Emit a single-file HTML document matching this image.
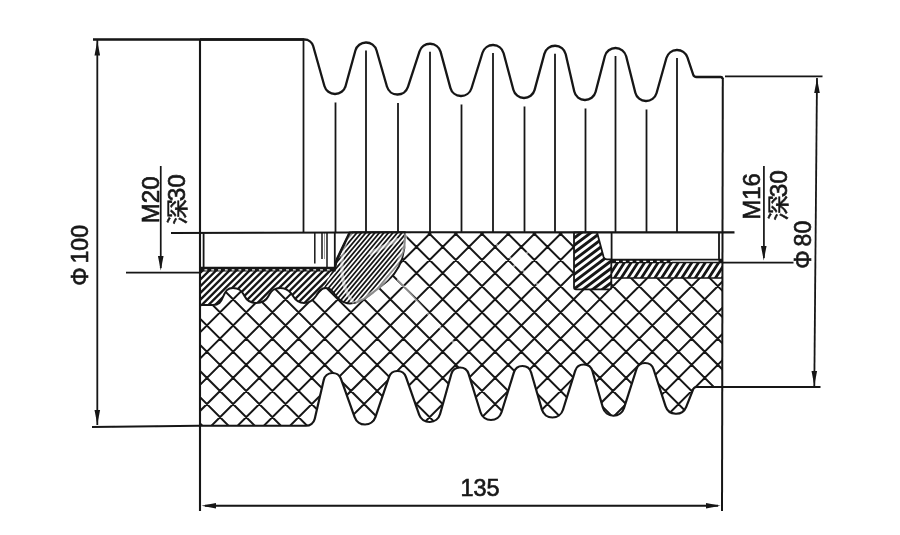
<!DOCTYPE html>
<html lang="zh">
<head>
<meta charset="utf-8">
<title>Insulator drawing</title>
<style>
html,body{margin:0;padding:0;background:#fff;}
body{width:900px;height:535px;overflow:hidden;}
svg{display:block;}
</style>
</head>
<body>
<svg width="900" height="535" viewBox="0 0 900 535">
<defs>
<clipPath id="cb"><path d="M200,425.75 H306 A9,9 0 0 0 314.77,418.78 L323.73,379.97 A9,9 0 0 1 340.97,378.97 L354.64,417.2 A11,11 0 0 0 375.42,417.04 L388.98,377.11 A9,9 0 0 1 406,377.03 L419.11,414.62 A11,11 0 0 0 440.09,413.98 L451.34,374.06 A9,9 0 0 1 468.6,373.84 L480.49,412.25 A11,11 0 0 0 501.51,412.26 L513.9,372.33 A9,9 0 0 1 531.14,372.48 L541.94,409.57 A11,11 0 0 0 563,409.78 L575.16,370.82 A9,9 0 0 1 592.4,371.02 L602.92,407.78 A11,11 0 0 0 623.98,408.11 L636.43,369.25 A9,9 0 0 1 653.56,369.22 L665.54,406.14 A11,11 0 0 0 686.22,406.83 L693.25,389.2 A3.5,3.5 0 0 1 696.5,387 H722.5 V232.3 H200 Z"/></clipPath>
<clipPath id="cl"><path d="M200,270 H334.5 L336,262 L350,232.3 H405 C405.5,244 404,252 402,259 C398,272 390,280 380,287 C370,295 360,303.5 350,303.5 C343,303.5 338,299 334.5,294 C331,289 329,288 326,288 C321,288 319,291 316,296 C312,302 308,303 304,303 C299,303 296,301 293,296 C289.5,290 286,288 280,288 C274.5,288 271.5,290 268.5,296 C266,301 262,303 256,303 C250,303 247,301 244.5,296 C241.5,290 238.5,288 233,288 C227.5,288 225.5,291 223.5,296 C221,302.5 218.5,305 213,305 H200 Z"/></clipPath>
<clipPath id="hl"><path d="M190,225 H353.4 L313.4,310 H190 Z"/></clipPath>
<clipPath id="hr"><path d="M353.4,225 H420 V310 H313.4 Z"/></clipPath>
<clipPath id="cr1"><path d="M574,232.3 H597 L603.6,257 Q604.3,259.3 607,259.3 H611.3 V287.3 Q611.3,289.3 609.3,289.3 H576 Q574,289.3 574,287.3 Z"/></clipPath>
<clipPath id="cr2"><path d="M611.3,262 H722.5 V278 H611.3 Z"/></clipPath>
<filter id="soft" x="0" y="0" width="900" height="535" filterUnits="userSpaceOnUse"><feGaussianBlur stdDeviation="0.45"/></filter>
</defs>
<rect width="900" height="535" fill="#fff"/>
<g filter="url(#soft)">
<g clip-path="url(#cb)"><path d="M30.53,318.47 L450.7,-101.7 M43.63,331.57 L463.8,-88.6 M56.73,344.67 L476.9,-75.5 M69.83,357.77 L490,-62.4 M82.93,370.87 L503.1,-49.3 M96.03,383.97 L516.2,-36.2 M109.13,397.07 L529.3,-23.1 M122.23,410.17 L542.4,-10 M135.33,423.27 L555.5,3.1 M148.43,436.37 L568.6,16.2 M161.53,449.47 L581.7,29.3 M174.63,462.57 L594.8,42.4 M187.73,475.67 L607.9,55.5 M200.83,488.77 L621,68.6 M213.93,501.87 L634.1,81.7 M227.03,514.97 L647.2,94.8 M240.13,528.07 L660.3,107.9 M253.23,541.17 L673.4,121 M266.33,554.27 L686.5,134.1 M279.43,567.37 L699.6,147.2 M292.53,580.47 L712.7,160.3 M305.63,593.57 L725.8,173.4 M318.73,606.67 L738.9,186.5 M331.83,619.77 L752,199.6 M344.93,632.87 L765.1,212.7 M358.03,645.97 L778.2,225.8 M371.13,659.07 L791.3,238.9 M384.23,672.17 L804.4,252 M397.33,685.27 L817.5,265.1 M410.43,698.37 L830.6,278.2 M423.53,711.47 L843.7,291.3 M436.63,724.57 L856.8,304.4 M449.73,737.67 L869.9,317.5 M462.83,750.77 L883,330.6 M466.35,-96.25 L886.52,323.92 M453.25,-83.15 L873.42,337.02 M440.15,-70.05 L860.32,350.12 M427.05,-56.95 L847.22,363.22 M413.95,-43.85 L834.12,376.32 M400.85,-30.75 L821.02,389.42 M387.75,-17.65 L807.92,402.52 M374.65,-4.55 L794.82,415.62 M361.55,8.55 L781.72,428.72 M348.45,21.65 L768.62,441.82 M335.35,34.75 L755.52,454.92 M322.25,47.85 L742.42,468.02 M309.15,60.95 L729.32,481.12 M296.05,74.05 L716.22,494.22 M282.95,87.15 L703.12,507.32 M269.85,100.25 L690.02,520.42 M256.75,113.35 L676.92,533.52 M243.65,126.45 L663.82,546.62 M230.55,139.55 L650.72,559.72 M217.45,152.65 L637.62,572.82 M204.35,165.75 L624.52,585.92 M191.25,178.85 L611.42,599.02 M178.15,191.95 L598.32,612.12 M165.05,205.05 L585.22,625.22 M151.95,218.15 L572.12,638.32 M138.85,231.25 L559.02,651.42 M125.75,244.35 L545.92,664.52 M112.65,257.45 L532.82,677.62 M99.55,270.55 L519.72,690.72 M86.45,283.65 L506.62,703.82 M73.35,296.75 L493.52,716.92 M60.25,309.85 L480.42,730.02 M47.15,322.95 L467.32,743.12 M34.05,336.05 L454.22,756.22" fill="none" stroke="#161616" stroke-width="2"/></g>
<path d="M200,232.3 H350 L336,262 L334.5,271.6 H200 Z" fill="#fff"/>
<path d="M597,232.3 H722.5 V263 H607 L603.6,257 Z" fill="#fff"/>
<path d="M200,270 H334.5 L336,262 L350,232.3 H405 C405.5,244 404,252 402,259 C398,272 390,280 380,287 C370,295 360,303.5 350,303.5 C343,303.5 338,299 334.5,294 C331,289 329,288 326,288 C321,288 319,291 316,296 C312,302 308,303 304,303 C299,303 296,301 293,296 C289.5,290 286,288 280,288 C274.5,288 271.5,290 268.5,296 C266,301 262,303 256,303 C250,303 247,301 244.5,296 C241.5,290 238.5,288 233,288 C227.5,288 225.5,291 223.5,296 C221,302.5 218.5,305 213,305 H200 Z" fill="#fff"/>
<g clip-path="url(#cl)"><g clip-path="url(#hl)"><path d="M143.86,268.81 L275.81,136.86 M147.22,272.17 L279.17,140.22 M150.58,275.53 L282.53,143.58 M153.94,278.89 L285.89,146.94 M157.3,282.24 L289.24,150.3 M160.66,285.6 L292.6,153.66 M164.02,288.96 L295.96,157.02 M167.37,292.32 L299.32,160.37 M170.73,295.68 L302.68,163.73 M174.09,299.04 L306.04,167.09 M177.45,302.4 L309.4,170.45 M180.81,305.76 L312.76,173.81 M184.17,309.11 L316.11,177.17 M187.53,312.47 L319.47,180.53 M190.89,315.83 L322.83,183.89 M194.24,319.19 L326.19,187.24 M197.6,322.55 L329.55,190.6 M200.96,325.91 L332.91,193.96 M204.32,329.27 L336.27,197.32 M207.68,332.63 L339.63,200.68 M211.04,335.98 L342.98,204.04 M214.4,339.34 L346.34,207.4 M217.76,342.7 L349.7,210.76 M221.11,346.06 L353.06,214.11 M224.47,349.42 L356.42,217.47 M227.83,352.78 L359.78,220.83 M231.19,356.14 L363.14,224.19 M234.55,359.5 L366.5,227.55 M237.91,362.85 L369.85,230.91 M241.27,366.21 L373.21,234.27 M244.63,369.57 L376.57,237.63 M247.98,372.93 L379.93,240.98 M251.34,376.29 L383.29,244.34 M254.7,379.65 L386.65,247.7 M258.06,383.01 L390.01,251.06 M261.42,386.37 L393.37,254.42 M264.78,389.72 L396.72,257.78 M268.14,393.08 L400.08,261.14 M271.5,396.44 L403.44,264.5 M274.86,399.8 L406.8,267.86 M278.21,403.16 L410.16,271.21" fill="none" stroke="#161616" stroke-width="2.35"/></g><g clip-path="url(#hr)"><path d="M262.19,275.84 L349.75,171.49 M264.83,278.06 L352.39,173.7 M267.47,280.27 L355.03,175.92 M270.12,282.49 L357.68,178.14 M272.76,284.71 L360.32,180.36 M275.4,286.93 L362.96,182.57 M278.04,289.14 L365.61,184.79 M280.69,291.36 L368.25,187.01 M283.33,293.58 L370.89,189.23 M285.97,295.8 L373.53,191.44 M288.62,298.01 L376.18,193.66 M291.26,300.23 L378.82,195.88 M293.9,302.45 L381.46,198.1 M296.54,304.67 L384.11,200.31 M299.19,306.88 L386.75,202.53 M301.83,309.1 L389.39,204.75 M304.47,311.32 L392.03,206.97 M307.12,313.54 L394.68,209.19 M309.76,315.75 L397.32,211.4 M312.4,317.97 L399.96,213.62 M315.04,320.19 L402.61,215.84 M317.69,322.41 L405.25,218.06 M320.33,324.62 L407.89,220.27 M322.97,326.84 L410.53,222.49 M325.62,329.06 L413.18,224.71 M328.26,331.28 L415.82,226.93 M330.9,333.5 L418.46,229.14 M333.54,335.71 L421.11,231.36 M336.19,337.93 L423.75,233.58 M338.83,340.15 L426.39,235.8 M341.47,342.37 L429.03,238.01 M344.12,344.58 L431.68,240.23 M346.76,346.8 L434.32,242.45 M349.4,349.02 L436.96,244.67 M352.04,351.24 L439.61,246.88 M354.69,353.45 L442.25,249.1 M357.33,355.67 L444.89,251.32 M359.97,357.89 L447.53,253.54 M362.62,360.11 L450.18,255.76 M365.26,362.32 L452.82,257.97 M367.9,364.54 L455.46,260.19 M370.54,366.76 L458.11,262.41" fill="none" stroke="#161616" stroke-width="1.75"/></g></g>
<path d="M200,270 H334.5 L336,262 L350,232.3 H405 C405.5,244 404,252 402,259 C398,272 390,280 380,287 C370,295 360,303.5 350,303.5 C343,303.5 338,299 334.5,294 C331,289 329,288 326,288 C321,288 319,291 316,296 C312,302 308,303 304,303 C299,303 296,301 293,296 C289.5,290 286,288 280,288 C274.5,288 271.5,290 268.5,296 C266,301 262,303 256,303 C250,303 247,301 244.5,296 C241.5,290 238.5,288 233,288 C227.5,288 225.5,291 223.5,296 C221,302.5 218.5,305 213,305 H200 Z" fill="none" stroke="#161616" stroke-width="2" stroke-linejoin="round"/>
<path d="M574,232.3 H597 L603.6,257 Q604.3,259.3 607,259.3 H611.3 V287.3 Q611.3,289.3 609.3,289.3 H576 Q574,289.3 574,287.3 Z" fill="#fff"/><path d="M611.3,262 H722.5 V278 H611.3 Z" fill="#fff"/>
<g clip-path="url(#cr1)"><path d="M530.61,249.07 L598.57,197.86 M534.1,253.7 L602.06,202.49 M537.59,258.34 L605.55,207.12 M541.08,262.97 L609.05,211.75 M544.57,267.6 L612.54,216.39 M548.06,272.23 L616.03,221.02 M551.55,276.86 L619.52,225.65 M555.04,281.5 L623.01,230.28 M558.54,286.13 L626.5,234.92 M562.03,290.76 L629.99,239.55 M565.52,295.39 L633.48,244.18 M569.01,300.02 L636.97,248.81 M572.5,304.66 L640.46,253.44 M575.99,309.29 L643.95,258.08 M579.48,313.92 L647.44,262.71 M582.97,318.55 L650.93,267.34 M586.46,323.19 L654.42,271.97" fill="none" stroke="#161616" stroke-width="2.9"/></g>
<g clip-path="url(#cr2)"><path d="M575.37,286.24 L644.56,179.69 M580.11,289.31 L649.3,182.77 M584.85,292.39 L654.04,185.84 M589.59,295.47 L658.78,188.92 M594.32,298.54 L663.52,192 M599.06,301.62 L668.26,195.08 M603.8,304.7 L672.99,198.15 M608.54,307.78 L677.73,201.23 M613.28,310.85 L682.47,204.31 M618.02,313.93 L687.21,207.38 M622.76,317.01 L691.95,210.46 M627.49,320.08 L696.69,213.54 M632.23,323.16 L701.42,216.62 M636.97,326.24 L706.16,219.69 M641.71,329.32 L710.9,222.77 M646.45,332.39 L715.64,225.85 M651.19,335.47 L720.38,228.92 M655.93,338.55 L725.12,232 M660.66,341.62 L729.86,235.08 M665.4,344.7 L734.59,238.16 M670.14,347.78 L739.33,241.23 M674.88,350.86 L744.07,244.31 M679.62,353.93 L748.81,247.39 M684.36,357.01 L753.55,250.47 M689.09,360.09 L758.29,253.54" fill="none" stroke="#161616" stroke-width="2.8"/></g>
<path d="M574,232.3 H597 L603.6,257 Q604.3,259.3 607,259.3 H611.3 V287.3 Q611.3,289.3 609.3,289.3 H576 Q574,289.3 574,287.3 Z" fill="none" stroke="#161616" stroke-width="1.8" stroke-linejoin="round"/>
<path d="M611.3,278 H722.5" fill="none" stroke="#161616" stroke-width="1.7"/>
<g fill="none" stroke="#fff" stroke-linecap="round" opacity="0.5">
<path d="M351,233 C339,250 338,284 353,302" stroke-width="3.2"/>
<path d="M406,234 C404,262 385,288 357,302" stroke-width="3.2"/>
<path d="M371,253 L397,240" stroke-width="4"/>
<path d="M398,280 L462,352" stroke-width="2.4"/>
<path d="M497,245 L542,289 M509,271 L533,247" stroke-width="2.2"/>
</g>
<g fill="none" stroke="#161616">
<path d="M203.6,232.3 V267 M334.8,232.3 V267" stroke-width="1.8"/>
<path d="M200,269.2 H335.5" stroke-width="4.7"/>
<path d="M204.5,269.9 H332" stroke-width="1.3" stroke="#fff" stroke-dasharray="2.8 4"/>
<path d="M314.8,232.3 V263.5 M322,232.3 V259 M327,232.3 V267" stroke-width="1.5"/>
<path d="M324.5,232.3 V259" stroke-width="1" stroke="#999"/>
<path d="M349.8,232.3 L337,259 L335,267" stroke-width="2.4"/>
<path d="M611.6,232.3 V259.3 M719,232.3 V259.3" stroke-width="1.8"/>
<path d="M611,261 H722.5" stroke-width="4.7"/>
<path d="M616,261.4 H672" stroke-width="1.3" stroke="#fff" stroke-dasharray="3 3.8"/>
<path d="M672,261.1 H718.5" stroke-width="1.3" stroke="#fff"/>
</g>
<g fill="none" stroke="#161616" stroke-linecap="butt" stroke-linejoin="round">
<path d="M200,39.5 H304.5 A9,9 0 0 1 313.16,46.06 L324.41,85.98 A11,11 0 0 0 345.6,85.94 L355.4,50.56 A11,11 0 0 1 376.57,50.46 L386.93,86.54 A11,11 0 0 0 407.96,86.91 L419.54,51.34 A11,11 0 0 1 440.62,51.87 L450.38,87.88 A11,11 0 0 0 471.51,88.25 L482.49,52.75 A11,11 0 0 1 503.63,53.18 L513.37,89.82 A11,11 0 0 0 534.62,89.88 L544.38,53.87 A11,11 0 0 1 565.72,54.28 L574.28,91.47 A11,11 0 0 0 595.65,91.76 L604.85,56.24 A11,11 0 0 1 626.17,56.31 L635.33,92.69 A11,11 0 0 0 656.59,92.98 L666.41,58.02 A11,11 0 0 1 687.43,57.49 L693.18,74.62 A3.5,3.5 0 0 0 696.5,77 H720.5 Q722.5,77 722.5,79" stroke-width="2.3"/>
<path d="M200,425.75 H306 A9,9 0 0 0 314.77,418.78 L323.73,379.97 A9,9 0 0 1 340.97,378.97 L354.64,417.2 A11,11 0 0 0 375.42,417.04 L388.98,377.11 A9,9 0 0 1 406,377.03 L419.11,414.62 A11,11 0 0 0 440.09,413.98 L451.34,374.06 A9,9 0 0 1 468.6,373.84 L480.49,412.25 A11,11 0 0 0 501.51,412.26 L513.9,372.33 A9,9 0 0 1 531.14,372.48 L541.94,409.57 A11,11 0 0 0 563,409.78 L575.16,370.82 A9,9 0 0 1 592.4,371.02 L602.92,407.78 A11,11 0 0 0 623.98,408.11 L636.43,369.25 A9,9 0 0 1 653.56,369.22 L665.54,406.14 A11,11 0 0 0 686.22,406.83 L693.25,389.2 A3.5,3.5 0 0 1 696.5,387 H722.5" stroke-width="2.2"/>
<path d="M200,39.5 V511" stroke-width="2.1"/>
<path d="M722.8,78 L722,511" stroke-width="2"/>
<path d="M303.5,39.5 V232.3" stroke-width="1.8"/>
<path d="M171,233 L400,232.3 L734.5,232.4" stroke-width="2.1"/>
<path d="M335.5,102.5 V232.3 M366,50.5 V232.3 M398,103 V232.3 M430,51.75 V232.3 M461.5,104.5 V232.3 M493,53 V232.3 M524.5,106.5 V232.3 M555,53.75 V232.3 M585.5,108.5 V232.3 M615.5,56 V232.3 M646.5,109.5 V232.3 M677,58 V232.3" stroke-width="1.8"/>
<path d="M93,39.5 H304" stroke-width="2.4"/>
<path d="M92,427 L200,425.75" stroke-width="1.8"/>
<path d="M97.3,39.5 V425" stroke-width="1.8"/>
<path d="M725,76.4 H822.5 M722,387 H820.5" stroke-width="1.9"/>
<path d="M817,78 L814.3,386" stroke-width="1.8"/>
<path d="M205,505.75 H718" stroke-width="1.8"/>
<path d="M160.75,166 V268 M126,272.6 H200" stroke-width="1.7"/>
<path d="M763.9,166 V258 M722,262.6 H793.5" stroke-width="1.7"/>
</g>
<path d="M97.3,41 L100.1,55.5 L94.5,55.5 Z M97.3,424.5 L94.5,410 L100.1,410 Z M817,78.5 L819.8,93 L814.2,93 Z M814.3,385.5 L811.5,371 L817.1,371 Z M201.5,505.75 L216,502.95 L216,508.55 Z M720.5,505.75 L706,508.55 L706,502.95 Z M160.75,270.5 L157.95,256 L163.55,256 Z M763.75,260.5 L760.95,246 L766.55,246 Z" fill="#161616"/>
<g font-family="'Liberation Sans','Noto Sans CJK SC',sans-serif" fill="#161616" stroke="#161616" stroke-width="0.65" text-anchor="middle">
<text x="480" y="495.5" font-size="23.4px">135</text>
<text transform="translate(88.2,255.4) rotate(-90) scale(0.93,1)" font-size="24.8px" text-anchor="middle" word-spacing="-2.6px">Φ 100</text>
<text transform="translate(158.8,199.8) rotate(-90) scale(0.97,1)" font-size="24.8px" text-anchor="middle">M20</text>
<text transform="translate(185.4,201) rotate(-90) scale(0.98,1)" font-size="24.8px" text-anchor="start" x="-24.2"><tspan dy="-0.8" stroke-width="0.45" font-size="21.8px" textLength="26.6" lengthAdjust="spacingAndGlyphs">深</tspan><tspan dx="-2.6" dy="0.8">30</tspan></text>
<text transform="translate(760.4,196.4) rotate(-90) scale(0.97,1)" font-size="24.8px" text-anchor="middle">M16</text>
<text transform="translate(787.2,197) rotate(-90) scale(0.98,1)" font-size="24.8px" text-anchor="start" x="-24.2"><tspan dy="-0.8" stroke-width="0.45" font-size="21.8px" textLength="26.6" lengthAdjust="spacingAndGlyphs">深</tspan><tspan dx="-2.6" dy="0.8">30</tspan></text>
<text transform="translate(811.2,244.8) rotate(-90) scale(0.93,1)" font-size="24.8px" text-anchor="middle" word-spacing="-2.6px">Φ 80</text>
</g>
</g>
</svg>
</body>
</html>
